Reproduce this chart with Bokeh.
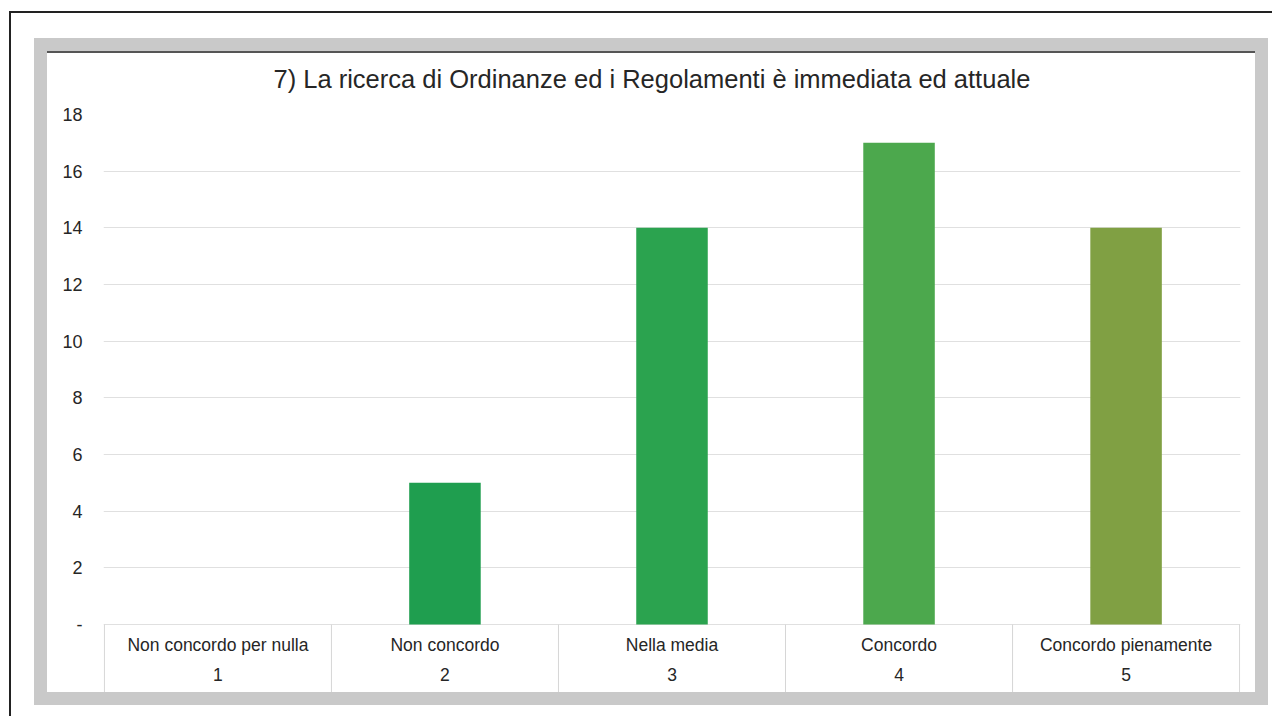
from bokeh.plotting import figure
from bokeh.models import FactorRange, FixedTicker, Range1d, ColumnDataSource, InlineStyleSheet
from bokeh.embed import file_html
from bokeh.resources import INLINE

# ---- data ----
categories = ["Non concordo per nulla", "Non concordo", "Nella media", "Concordo", "Concordo pienamente"]
codes = ["1", "2", "3", "4", "5"]
counts = [0, 5, 14, 17, 14]
bar_colors = ["#1f9e4f", "#1f9e4f", "#2ba34f", "#4ca84d", "#80a043"]
y_ticks = [0, 2, 4, 6, 8, 10, 12, 14, 16, 18]
y_tick_labels = {0: "-"}
title_text = "7) La ricerca di Ordinanze ed i Regolamenti è immediata ed attuale"

factors = list(zip(codes, categories))
W, H = 1272, 716

x_range = FactorRange(*factors, range_padding=0.004, range_padding_units="absolute",
                      group_padding=0, subgroup_padding=0, factor_padding=0)
# the area below zero holds the two-row category table
p = figure(width=W, height=H, x_range=x_range, y_range=Range1d(-2.4, 18),
           output_backend="svg", toolbar_location=None,
           min_border_left=103, min_border_right=32,
           min_border_top=114, min_border_bottom=24,
           title=title_text)
p.background_fill_color = "white"
p.border_fill_color = "white"
p.outline_line_color = None

src = ColumnDataSource(dict(x=factors, top=counts, color=bar_colors))
p.vbar(x="x", top="top", width=0.315, fill_color="color", line_color=None, source=src)

# table cell borders (between and around the categories)
edges = list(range(len(categories) + 1))
p.segment(x0=edges, x1=edges, y0=[0] * len(edges), y1=[-2.4] * len(edges),
          line_color="#d6d6d6", line_width=1)

# title
p.title.text_font = "Liberation Sans"
p.title.text_font_size = "25.5px"
p.title.text_font_style = "normal"
p.title.text_color = "#262626"
p.title.align = "left"
p.title.offset = 170
p.title.standoff = 44

# y axis
ya = p.yaxis[0]
ya.ticker = FixedTicker(ticks=y_ticks)
ya.major_label_overrides = y_tick_labels
ya.axis_line_color = None
ya.major_tick_line_color = None
ya.minor_tick_line_color = None
ya.major_tick_out = 0
ya.major_tick_in = 0
ya.major_label_standoff = 21
ya.major_label_text_font = "Liberation Sans"
ya.major_label_text_font_size = "18px"
ya.major_label_text_color = "#262626"

p.ygrid.ticker = FixedTicker(ticks=y_ticks)
p.ygrid.grid_line_color = "#e0e0e0"
p.xgrid.grid_line_color = None

# x axis (two-row table), drawn at y = 0
xa = p.xaxis[0]
xa.fixed_location = 0
xa.axis_line_color = None
xa.major_tick_line_color = None
xa.minor_tick_line_color = None
xa.major_tick_out = 0
xa.major_tick_in = 0
xa.separator_line_color = None
xa.major_label_standoff = 10
xa.major_label_text_font = "Liberation Sans"
xa.major_label_text_font_size = "17.5px"
xa.major_label_text_color = "#262626"
xa.group_text_font = "Liberation Sans"
xa.group_text_font_size = "17.5px"
xa.group_text_font_style = "normal"
xa.group_text_color = "#262626"

# scanned-page frames
p.stylesheets = [InlineStyleSheet(css="""
:host { position: relative; }
:host::before {
  content: ""; position: absolute; left: 9px; top: 11px;
  width: 1261px; height: 703px;
  border-left: 2px solid #222; border-top: 2px solid #222;
  pointer-events: none; z-index: 10;
}
:host::after {
  content: ""; position: absolute; left: 34px; top: 38px;
  width: 1208px; height: 641px;
  border: 13px solid #c9c9c9;
  box-shadow: inset 0 2px 0 0 #555;
  pointer-events: none; z-index: 10;
}
""")]

open("out.html", "w").write(file_html(p, INLINE))
